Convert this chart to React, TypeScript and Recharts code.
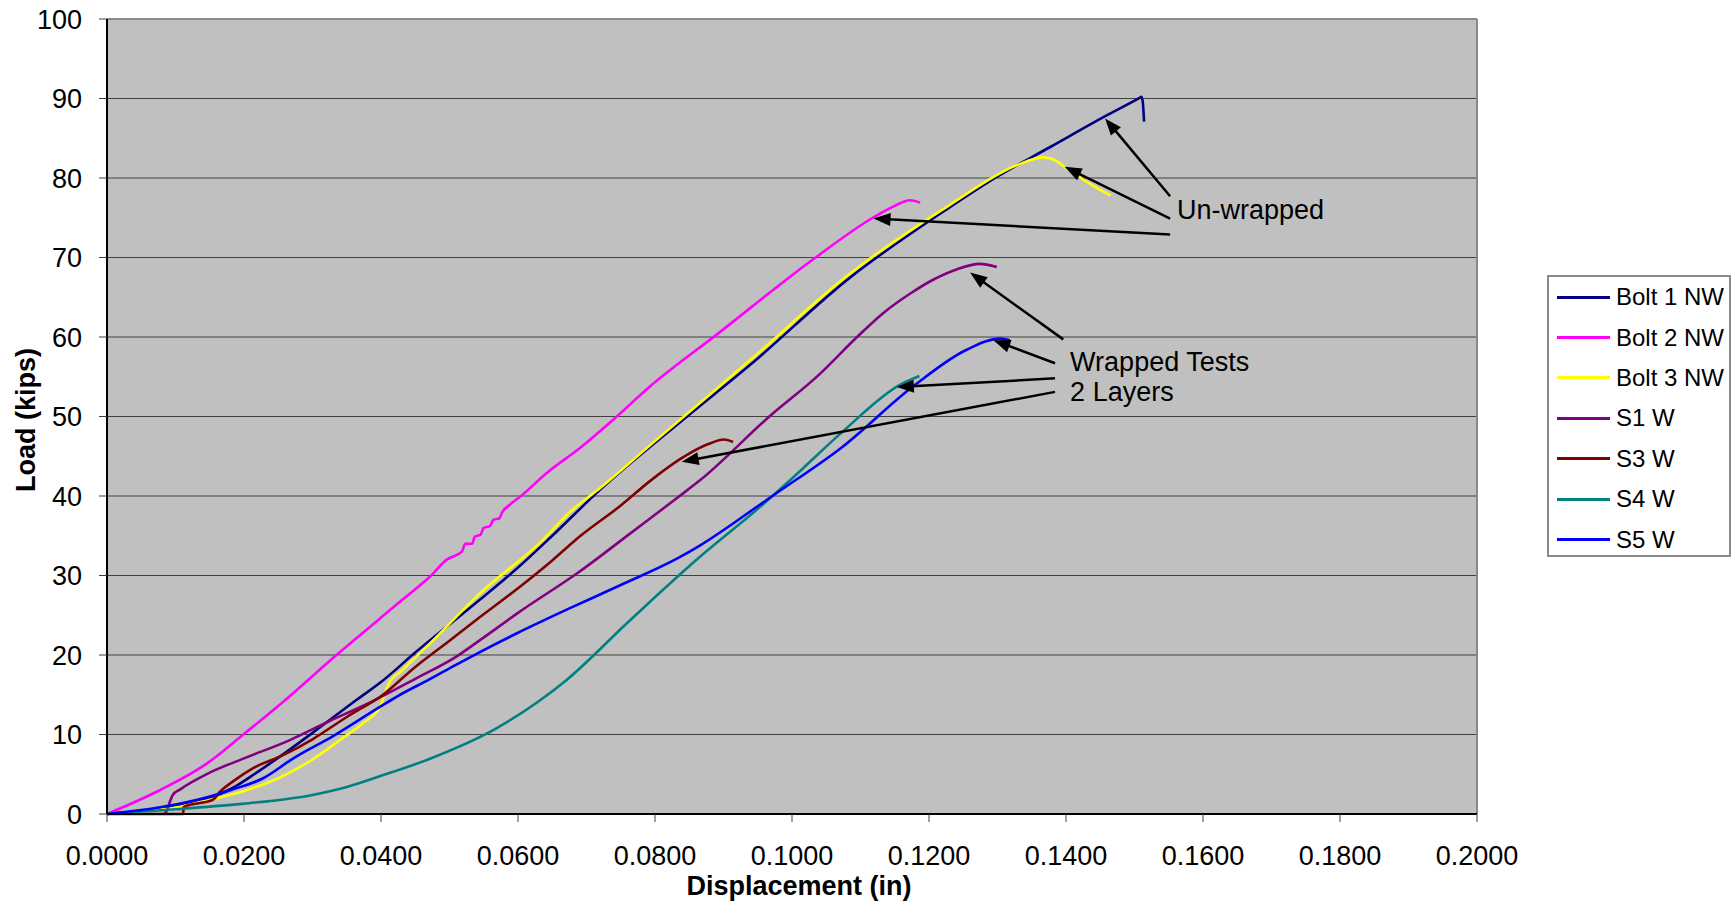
import React from 'react'
import {
  LineChart,
  Line,
  XAxis,
  YAxis,
  CartesianGrid,
  ReferenceLine,
  ReferenceDot,
  Legend,
} from 'recharts'

type Pt = [number, number]

const bolt1NW: Pt[] = [
  [0, 0], [0.005, 0.4], [0.01, 1.0], [0.015, 2.0], [0.0184, 3.3], [0.022, 5.3], [0.0257, 7.5],
  [0.03, 10.2], [0.0365, 14.4], [0.04, 16.6], [0.045, 20.3], [0.0545, 27], [0.06, 31], [0.065, 35],
  [0.072, 40.8], [0.0841, 49.6], [0.0939, 56.5], [0.1085, 67.5], [0.123, 76.3], [0.13, 80.2],
  [0.1377, 83.9], [0.146, 87.9], [0.1508, 90.1], [0.151, 90.2], [0.1512, 89.6], [0.1514, 87.1],
]

const bolt2NW: Pt[] = [
  [0, 0], [0.00725, 2.8], [0.0145, 6.3], [0.0199, 10], [0.0253, 13.8], [0.0335, 20], [0.0432, 27],
  [0.0472, 29.9], [0.0496, 32.0], [0.0518, 33.0], [0.0523, 34.0], [0.0533, 34.0], [0.0537, 34.9],
  [0.0545, 35.1], [0.055, 36.0], [0.0559, 36.2], [0.0564, 37.0], [0.0573, 37.2], [0.0576, 37.8],
  [0.0588, 38.9], [0.0603, 39.9], [0.0642, 42.9], [0.069, 46.0], [0.0739, 49.6], [0.0793, 53.8],
  [0.089, 60.3], [0.1036, 70.1], [0.1118, 75], [0.115, 76.5], [0.1172, 77.2], [0.1187, 76.9],
]

const bolt3NW: Pt[] = [
  [0, 0], [0.005, 0.3], [0.01, 0.8], [0.015, 1.8], [0.02, 2.9], [0.025, 4.5], [0.0299, 6.8],
  [0.034, 9.3], [0.0375, 11.5], [0.0399, 13.5], [0.0405, 15], [0.0412, 16.5], [0.043, 18],
  [0.0472, 21.5], [0.0545, 27.8], [0.0632, 34.1], [0.068, 38.3], [0.072, 41], [0.0793, 46.4],
  [0.0939, 57.1], [0.1085, 68], [0.123, 76.6], [0.1328, 81.6], [0.1367, 82.6], [0.1385, 82.2],
  [0.1401, 81.2], [0.145, 78.5], [0.1465, 77.8],
]

const s1W: Pt[] = [
  [0.0083, 0], [0.0088, 0.5], [0.0092, 1.6], [0.0096, 2.4], [0.0107, 3.1], [0.015, 5.2], [0.02, 7.0],
  [0.0267, 9.3], [0.0325, 11.7], [0.0388, 14.2], [0.045, 17], [0.051, 19.8], [0.0545, 21.9],
  [0.06, 25.3], [0.069, 30.5], [0.0764, 35.3], [0.0836, 40], [0.0866, 42], [0.0967, 50],
  [0.104, 55.3], [0.1095, 60], [0.1133, 63], [0.1175, 65.6], [0.1206, 67.2], [0.124, 68.5],
  [0.1274, 69.2], [0.1299, 68.8],
]

const s3W: Pt[] = [
  [0, 0], [0.0111, 0], [0.0112, 0.9], [0.0155, 1.8], [0.0165, 2.8], [0.0184, 4.1], [0.0214, 5.8],
  [0.0257, 7.4], [0.03, 9.4], [0.035, 12.2], [0.0403, 15.0], [0.045, 18.5], [0.05, 21.8],
  [0.0545, 24.8], [0.06, 28.4], [0.065, 31.9], [0.069, 34.9], [0.075, 38.8], [0.0793, 41.9],
  [0.0836, 44.6], [0.0851, 45.4], [0.088, 46.6], [0.09, 47.1], [0.0914, 46.8],
]

const s4W: Pt[] = [
  [0, 0], [0.01, 0.6], [0.02, 1.3], [0.03, 2.4], [0.035, 3.4], [0.04, 4.8], [0.0467, 6.8],
  [0.0569, 10.8], [0.0666, 16.5], [0.0764, 24.4], [0.0861, 32], [0.0953, 38.6], [0.1, 42.2],
  [0.1074, 48.1], [0.1158, 54], [0.1186, 55.1],
]

const s5W: Pt[] = [
  [0, 0], [0.005, 0.5], [0.01, 1.2], [0.015, 2.2], [0.018, 3.0], [0.0228, 4.5], [0.0272, 7.0],
  [0.033, 9.8], [0.0399, 13.5], [0.0428, 15.0], [0.047, 16.9], [0.051, 18.8], [0.0545, 20.4],
  [0.06, 22.8], [0.0671, 25.7], [0.075, 28.8], [0.0836, 32.3], [0.0866, 33.8], [0.0953, 38.9],
  [0.0973, 40.1], [0.1074, 46.2], [0.1177, 53.8], [0.1255, 58.4], [0.1304, 59.8], [0.1318, 59.6],
]

const seriesNames = ['Bolt 1 NW', 'Bolt 2 NW', 'Bolt 3 NW', 'S1 W', 'S3 W', 'S4 W', 'S5 W']
const seriesColors = ['#000080', '#FF00FF', '#FFFF00', '#800080', '#800000', '#008080', '#0000FF']
const seriesData = [bolt1NW, bolt2NW, bolt3NW, s1W, s3W, s4W, s5W]

const xTicks = [0, 0.02, 0.04, 0.06, 0.08, 0.1, 0.12, 0.14, 0.16, 0.18, 0.2]
const yTicks = [0, 10, 20, 30, 40, 50, 60, 70, 80, 90, 100]

// arrows: [from, tip] in data units
const arrows: [Pt, Pt][] = [
  [[0.1552, 77.7], [0.1457, 87.5]],
  [[0.1552, 74.9], [0.1398, 81.4]],
  [[0.1552, 72.9], [0.1119, 74.9]],
  [[0.1396, 59.7], [0.126, 68.1]],
  [[0.1384, 56.7], [0.1294, 59.6]],
  [[0.1384, 54.8], [0.1153, 53.7]],
  [[0.1384, 53.1], [0.0839, 44.3]],
]

const notes: { text: string; at: Pt }[] = [
  { text: 'Un-wrapped', at: [0.1562, 76.0] },
  { text: 'Wrapped Tests', at: [0.1406, 56.9] },
  { text: '2 Layers', at: [0.1406, 53.1] },
]

const FONT = '"Liberation Sans", Arial, sans-serif'

const toRows = (pts: Pt[]) => pts.map(([x, y]) => ({ x, y }))

const ArrowShape = (props: any) => {
  const { x1, y1, x2, y2 } = props
  const dx = x2 - x1
  const dy = y2 - y1
  const len = Math.sqrt(dx * dx + dy * dy) || 1
  const ux = dx / len
  const uy = dy / len
  const head = 17
  const half = 6.5
  const bx = x2 - ux * head
  const by = y2 - uy * head
  const pts = `${x2},${y2} ${bx - uy * half},${by + ux * half} ${bx + uy * half},${by - ux * half}`
  return (
    <g>
      <line x1={x1} y1={y1} x2={bx + ux * 2} y2={by + uy * 2} stroke="#000" strokeWidth={2.5} />
      <polygon points={pts} fill="#000" />
    </g>
  )
}

const LegendBox = () => (
  <div
    style={{
      width: 184,
      height: 282,
      boxSizing: 'border-box',
      border: '2px solid #8a8a8a',
      background: '#fff',
      fontFamily: FONT,
      fontSize: 24,
    }}
  >
    {seriesNames.map((name, i) => (
      <div key={name} style={{ display: 'flex', alignItems: 'center', height: 40.4 }}>
        <span style={{ display: 'inline-block', marginLeft: 8, width: 53, height: 3, background: seriesColors[i] }} />
        <span style={{ marginLeft: 6, color: '#000', whiteSpace: 'nowrap' }}>{name}</span>
      </div>
    ))}
  </div>
)

export default function App() {
  return (
    <div style={{ position: 'absolute', left: 0, top: 0, fontFamily: FONT }}>
      <LineChart width={1732} height={905} margin={{ top: 19, right: 255, left: 27, bottom: 21 }}>
        <CartesianGrid vertical={false} stroke="#404040" strokeWidth={1} fill="#C0C0C0" fillOpacity={1} />
        <XAxis
          type="number"
          dataKey="x"
          domain={[0, 0.2]}
          ticks={xTicks}
          interval={0}
          height={70}
          tickSize={8}
          tickMargin={24}
          tickFormatter={(v) => Number(v).toFixed(4)}
          tick={{ fontSize: 27, fill: '#000', fontFamily: FONT }}
          tickLine={{ stroke: '#404040' }}
          axisLine={{ stroke: '#000', strokeWidth: 2 }}
          label={() => (
            <text x={799} y={886} textAnchor="middle" dominantBaseline="central" fontSize={27} fontWeight="bold" fontFamily={FONT} fill="#000">
              Displacement (in)
            </text>
          )}
        />
        <YAxis
          type="number"
          domain={[0, 100]}
          ticks={yTicks}
          interval={0}
          width={80}
          tickSize={8}
          tickMargin={17}
          tick={{ fontSize: 27, fill: '#000', fontFamily: FONT }}
          tickLine={{ stroke: '#404040' }}
          axisLine={{ stroke: '#000', strokeWidth: 2 }}
          label={() => (
            <text
              x={26}
              y={420}
              transform="rotate(-90 26 420)"
              textAnchor="middle"
              dominantBaseline="central"
              fontSize={27}
              fontWeight="bold"
              fontFamily={FONT}
              fill="#000"
            >
              Load (kips)
            </text>
          )}
        />
        <ReferenceLine y={100} stroke="#8a8a8a" strokeWidth={2} />
        <ReferenceLine x={0.2} stroke="#8a8a8a" strokeWidth={2} />
        {seriesData.map((d, i) => (
          <Line
            key={seriesNames[i]}
            data={toRows(d)}
            dataKey="y"
            name={seriesNames[i]}
            type="monotone"
            stroke={seriesColors[i]}
            strokeWidth={2.6}
            dot={false}
            activeDot={false}
            isAnimationActive={false}
          />
        ))}
        {arrows.map(([a, b], i) => (
          <ReferenceLine
            key={'arrow' + i}
            segment={[{ x: a[0], y: a[1] }, { x: b[0], y: b[1] }]}
            shape={ArrowShape}
          />
        ))}
        {notes.map((n) => (
          <ReferenceDot
            key={n.text}
            x={n.at[0]}
            y={n.at[1]}
            r={0}
            shape={(p: any) => (
              <text x={p.cx} y={p.cy} dominantBaseline="central" fontSize={27} fontFamily={FONT} fill="#000">
                {n.text}
              </text>
            )}
          />
        ))}
        <Legend
          layout="vertical"
          align="center"
          verticalAlign="middle"
          wrapperStyle={{ left: 1547, top: 275, width: 184, height: 282 }}
          content={() => <LegendBox />}
        />
      </LineChart>
    </div>
  )
}
